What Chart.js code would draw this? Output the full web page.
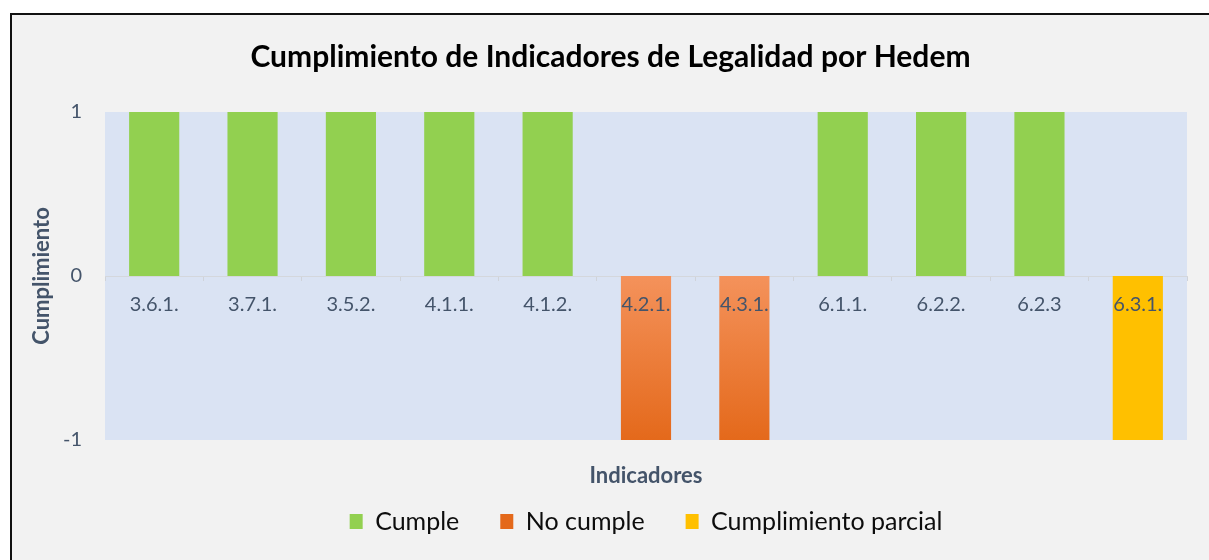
<!DOCTYPE html>
<html>
<head>
<meta charset="utf-8">
<script src="https://cdn.jsdelivr.net/npm/chart.js@4/dist/chart.umd.min.js"></script>
<style>
  html, body { margin: 0; padding: 0; background: #ffffff; width: 1209px; height: 560px; overflow: hidden; }
  #frame { position: absolute; left: 10px; top: 13px; width: 1199px; height: 547px; border-left: 2px solid #111; border-top: 2px solid #111; background: #f2f2f2; box-sizing: border-box; }
  #wrap { position: absolute; left: 0; top: 0; width: 1197px; height: 545px; }
</style>
</head>
<body>
<div id="frame"><div id="wrap"><canvas id="c" width="1197" height="545"></canvas></div></div>
<script>
const categories = ['3.6.1.', '3.7.1.', '3.5.2.', '4.1.1.', '4.1.2.', '4.2.1.', '4.3.1.', '6.1.1.', '6.2.2.', '6.2.3', '6.3.1.'];
const cumple      = [1, 1, 1, 1, 1, null, null, 1, 1, 1, null];
const noCumple    = [null, null, null, null, null, -1, -1, null, null, null, null];
const parcial     = [null, null, null, null, null, null, null, null, null, null, -1];
const yTicks = [-1, 0, 1];

const FONT = 'Lato, "Open Sans", sans-serif';
const AXIS_COLOR = '#44546a';

const plotBg = {
  id: 'plotBg',
  beforeDraw(chart) {
    const {ctx, chartArea: a} = chart;
    ctx.save();
    ctx.fillStyle = '#dae3f3';
    ctx.fillRect(a.left, a.top, a.right - a.left, a.bottom - a.top);
    ctx.restore();
  }
};

function orangeFill(ctx) {
  if (ctx.type !== 'data') return '#ee7d3b';
  const chart = ctx.chart;
  if (!chart.chartArea || !chart.scales.y) return '#ee7d3b';
  const y = chart.scales.y;
  const g = chart.ctx.createLinearGradient(0, y.getPixelForValue(0), 0, y.getPixelForValue(-1));
  g.addColorStop(0, '#f4925b');
  g.addColorStop(1, '#e4691b');
  return g;
}

new Chart(document.getElementById('c'), {
  type: 'bar',
  data: {
    labels: categories,
    datasets: [
      { label: 'Cumple', data: cumple, backgroundColor: '#92d050' },
      { label: 'No cumple', data: noCumple, backgroundColor: orangeFill },
      { label: 'Cumplimiento parcial', data: parcial, backgroundColor: '#ffc000' }
    ]
  },
  plugins: [plotBg],
  options: {
    responsive: false,
    animation: false,
    layout: { padding: { left: 0, right: 0, top: 0, bottom: 16 } },
    datasets: { bar: { categoryPercentage: 1, barPercentage: 0.51, borderWidth: 0 } },
    plugins: {
      tooltip: { enabled: false },
      title: {
        display: true,
        text: 'Cumplimiento de Indicadores de Legalidad por Hedem',
        color: '#000000',
        font: { family: FONT, size: 30, weight: 'bold' },
        padding: { top: 24, bottom: 37 }
      },
      legend: {
        position: 'bottom',
        fullSize: false,
        labels: {
          color: '#0d0d0d',
          font: { family: FONT, size: 25 },
          boxWidth: 13,
          boxHeight: 15,
          padding: 41
        }
      }
    },
    scales: {
      x: {
        type: 'category',
        stacked: true,
        position: { y: 0 },
        grid: { drawOnChartArea: false, drawTicks: true, tickLength: 4, color: '#cfd3da', offset: true },
        border: { display: true, color: '#d4d7dc', width: 1 },
        ticks: { z: 1, color: AXIS_COLOR, font: { family: FONT, size: 20 }, padding: 13, autoSkip: false, maxRotation: 0, minRotation: 0 }
      },
      x2: {
        type: 'category',
        position: 'bottom',
        display: true,
        grid: { display: false, drawTicks: false },
        border: { display: false },
        ticks: { display: false },
        title: { display: true, text: 'Indicadores', color: AXIS_COLOR, font: { family: FONT, size: 22, weight: 'bold' }, padding: { top: 0, bottom: -21 } },
        afterFit(s) { s.height = 28; }
      },
      y: {
        stacked: true,
        min: -1,
        max: 1,
        afterBuildTicks(s) { s.ticks = yTicks.map(v => ({ value: v })); },
        grid: { display: false, drawTicks: false },
        border: { display: false },
        ticks: { color: AXIS_COLOR, font: { family: FONT, size: 20 }, padding: 23 },
        title: { display: true, text: 'Cumplimiento', color: AXIS_COLOR, font: { family: FONT, size: 22, weight: 'bold' }, padding: { top: 17, bottom: 0 } },
        afterFit(s) { s.width = 93; }
      },
      yRight: {
        type: 'linear',
        position: 'right',
        display: true,
        grid: { display: false, drawTicks: false },
        border: { display: false },
        ticks: { display: false },
        afterFit(s) { s.width = 22; }
      }
    }
  }
});
</script>
</body>
</html>
